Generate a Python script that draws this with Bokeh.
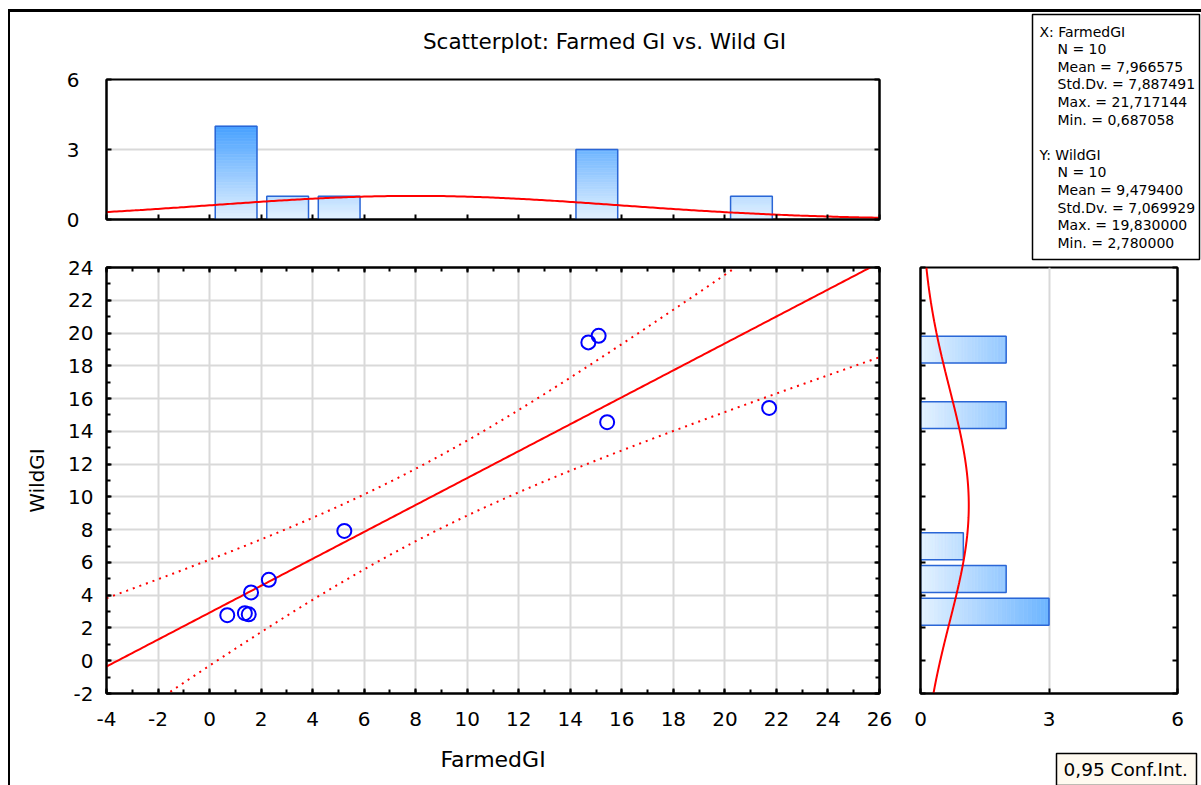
import numpy as np
from bokeh.plotting import figure
from bokeh.layouts import row, column
from bokeh.models import (Range1d, LinearAxis, SingleIntervalTicker, FixedTicker,
                          CustomJSTickFormatter)
from bokeh.core.properties import value
from bokeh.embed import file_html
from bokeh.resources import INLINE

# ---------------- data ----------------
farmed_gi = [0.687058, 1.37, 1.52, 1.61, 2.30, 5.23, 14.70, 15.10, 15.43, 21.717144]
wild_gi = [2.78, 2.90, 2.83, 4.17, 4.94, 7.92, 19.43, 19.83, 14.56, 15.43]

x_bin_left = [0, 2, 4, 14, 20]
x_bin_count = [4, 1, 1, 3, 1]
y_bin_low = [2, 4, 6, 14, 18]
y_bin_count = [3, 2, 1, 2, 2]
bin_width = 2

count_ticks = [0, 3, 6]
title_text = ["Scatterplot: Farmed GI vs. Wild GI"]
x_label = "FarmedGI"
y_label = "WildGI"
stats_lines = ["X:  FarmedGI", "N = 10", "Mean = 7,966575", "Std.Dv. = 7,887491",
               "Max. = 21,717144", "Min. = 0,687058", "",
               "Y:  WildGI", "N = 10", "Mean = 9,479400", "Std.Dv. = 7,069929",
               "Max. = 19,830000", "Min. = 2,780000"]
conf_text = ["0,95 Conf.Int."]
t_975_df8 = 2.306

# ---------------- styles ----------------
FONT = "DejaVu Sans"
GRID = "#d9d9d9"
RED = "#ff0000"
EDGE = "#2a66d6"
BLUE = "#0000ff"
FMT = "return tick.toFixed(0)"


def shade(v):
    t = min(max(v / 4.2, 0.0), 1.0)
    c0 = (228, 242, 255)
    c1 = (62, 156, 255)
    return "#%02x%02x%02x" % tuple(int(round(a + (b - a) * t)) for a, b in zip(c0, c1))


def style_axis(ax, labels=True, minor=True, size="20px", standoff=11):
    ax.axis_line_color = "black"
    ax.axis_line_width = 2
    ax.major_tick_line_color = "black"
    ax.major_tick_line_width = 2
    ax.major_tick_in = 5
    ax.major_tick_out = 0
    ax.minor_tick_line_color = "black" if minor else None
    ax.minor_tick_line_width = 2
    ax.minor_tick_in = 4
    ax.minor_tick_out = 0
    ax.major_label_text_font = FONT
    ax.formatter = CustomJSTickFormatter(code=FMT)
    if labels:
        ax.major_label_text_color = "black"
        ax.major_label_text_font_size = size
        ax.major_label_standoff = standoff
    else:
        ax.major_label_text_color = None
        ax.major_label_text_font_size = "1px"
        ax.major_label_standoff = 0
    ax.axis_label_text_font = FONT
    ax.axis_label_text_font_size = "20px"
    ax.axis_label_text_font_style = "normal"
    ax.axis_label_text_color = "black"


def base_fig(**kw):
    p = figure(output_backend="svg", toolbar_location=None, frame_align=False, **kw)
    p.outline_line_color = "black"
    p.outline_line_width = 2
    p.background_fill_color = "white"
    p.border_fill_color = "white"
    return p


# ---------------- title strip ----------------
ttl = base_fig(width=890, height=50, x_range=Range1d(0, 890), y_range=Range1d(0, 50),
               min_border_left=0, min_border_right=0, min_border_top=0, min_border_bottom=0,
               x_axis_location=None, y_axis_location=None)
ttl.outline_line_color = None
ttl.grid.visible = False
ttl.text(x=[594], y=[21], text=title_text, text_font=value(FONT), text_font_size="21.5px",
         text_align="center", text_baseline="middle", text_color="black")

# ---------------- main scatter ----------------
main = base_fig(width=890, height=540, x_range=Range1d(-4, 26), y_range=Range1d(-2, 24),
                min_border_left=96, min_border_right=21, min_border_top=21, min_border_bottom=93,
                x_axis_label=x_label, y_axis_label=y_label)
main.xaxis.ticker = SingleIntervalTicker(interval=2, num_minor_ticks=2)
main.yaxis.ticker = SingleIntervalTicker(interval=2, num_minor_ticks=2)
style_axis(main.xaxis[0], standoff=18)
style_axis(main.yaxis[0], standoff=13)
main.xaxis[0].axis_label_standoff = 18
main.xaxis[0].axis_label_text_font_size = "22px"
main.yaxis[0].axis_label_standoff = 16
main.yaxis[0].axis_label_text_font_size = "20px"
top_ax = LinearAxis(ticker=SingleIntervalTicker(interval=2, num_minor_ticks=2))
right_ax = LinearAxis(ticker=SingleIntervalTicker(interval=2, num_minor_ticks=2))
style_axis(top_ax, labels=False)
style_axis(right_ax, labels=False)
main.add_layout(top_ax, "above")
main.add_layout(right_ax, "right")
main.grid.grid_line_color = GRID
main.grid.grid_line_width = 2

xa = np.array(farmed_gi)
ya = np.array(wild_gi)
n = len(xa)
slope, intercept = np.polyfit(xa, ya, 1)
xm = xa.mean()
resid = ya - (intercept + slope * xa)
s_res = np.sqrt((resid ** 2).sum() / (n - 2))
sxx = ((xa - xm) ** 2).sum()
xs = np.linspace(-4, 26, 301)
yhat = intercept + slope * xs
half = t_975_df8 * s_res * np.sqrt(1.0 / n + (xs - xm) ** 2 / sxx)
main.line(xs, yhat, line_color=RED, line_width=2)
main.line(xs, yhat + half, line_color=RED, line_width=2, line_dash="2 5")
main.line(xs, yhat - half, line_color=RED, line_width=2, line_dash="2 5")
main.scatter(farmed_gi, wild_gi, marker="circle", size=14, fill_color=None,
             line_color=BLUE, line_width=2)

# ---------------- top histogram ----------------
top = base_fig(width=890, height=184, x_range=Range1d(-4, 26), y_range=Range1d(0, 6),
               min_border_left=96, min_border_right=21, min_border_top=17, min_border_bottom=27)
top.xaxis.ticker = SingleIntervalTicker(interval=2, num_minor_ticks=0)
top.yaxis.ticker = FixedTicker(ticks=count_ticks)
style_axis(top.xaxis[0], labels=False, minor=False)
style_axis(top.yaxis[0], minor=False, standoff=27)
tr_ax = LinearAxis(ticker=FixedTicker(ticks=count_ticks))
style_axis(tr_ax, labels=False, minor=False)
top.add_layout(tr_ax, "right")
top.xgrid.visible = False
top.ygrid.grid_line_color = GRID
top.ygrid.grid_line_width = 2

NS = 30
sl, sr, sb, st, sc = [], [], [], [], []
for left, cnt in zip(x_bin_left, x_bin_count):
    for k in range(NS):
        b = cnt * k / NS
        t = cnt * (k + 1) / NS
        sl.append(left + 0.22)
        sr.append(left + 0.22 + 1.62)
        sb.append(b)
        st.append(t)
        sc.append(shade((b + t) / 2))
top.quad(left=sl, right=sr, bottom=sb, top=st, fill_color=sc, line_color=sc, line_width=0.6)
top.quad(left=[l + 0.22 for l in x_bin_left], right=[l + 0.22 + 1.62 for l in x_bin_left],
         bottom=0, top=x_bin_count, fill_color=None, line_color=EDGE, line_width=1.5)
sx_mean, sx_sd = xa.mean(), xa.std(ddof=1)
nx = np.linspace(-4, 26, 301)
top.line(nx, n * bin_width * np.exp(-0.5 * ((nx - sx_mean) / sx_sd) ** 2) / (sx_sd * np.sqrt(2 * np.pi)),
         line_color=RED, line_width=2)

# ---------------- right histogram ----------------
rh = base_fig(width=301, height=483, x_range=Range1d(0, 6), y_range=Range1d(-2, 24),
              min_border_left=20, min_border_right=24, min_border_top=4, min_border_bottom=53)
rh.xaxis.ticker = FixedTicker(ticks=count_ticks)
rh.yaxis.ticker = SingleIntervalTicker(interval=2, num_minor_ticks=0)
style_axis(rh.xaxis[0], minor=False, standoff=18)
style_axis(rh.yaxis[0], labels=False, minor=False)
rr_ax = LinearAxis(ticker=SingleIntervalTicker(interval=2, num_minor_ticks=0))
style_axis(rr_ax, labels=False, minor=False)
rh.add_layout(rr_ax, "right")
rh.ygrid.visible = False
rh.xgrid.grid_line_color = GRID
rh.xgrid.grid_line_width = 2

sl, sr, sb, st, sc = [], [], [], [], []
for low, cnt in zip(y_bin_low, y_bin_count):
    for k in range(NS):
        a = cnt * k / NS
        b = cnt * (k + 1) / NS
        sl.append(a)
        sr.append(b)
        sb.append(low + 0.17)
        st.append(low + 0.17 + 1.64)
        sc.append(shade((a + b) / 2))
rh.quad(left=sl, right=sr, bottom=sb, top=st, fill_color=sc, line_color=sc, line_width=0.6)
rh.quad(left=0, right=y_bin_count, bottom=[l + 0.17 for l in y_bin_low],
        top=[l + 0.17 + 1.64 for l in y_bin_low], fill_color=None, line_color=EDGE, line_width=1.5)
sy_mean, sy_sd = ya.mean(), ya.std(ddof=1)
ny = np.linspace(-2, 24, 301)
rh.line(n * bin_width * np.exp(-0.5 * ((ny - sy_mean) / sy_sd) ** 2) / (sy_sd * np.sqrt(2 * np.pi)), ny,
        line_color=RED, line_width=2)

# ---------------- confidence legend box ----------------
conf = base_fig(width=301, height=40, x_range=Range1d(0, 140), y_range=Range1d(0, 33),
                min_border_left=156, min_border_right=5, min_border_top=7, min_border_bottom=0,
                x_axis_location=None, y_axis_location=None)
conf.background_fill_color = "#fffaf0"
conf.outline_line_width = 1.5
conf.grid.visible = False
conf.text(x=[7], y=[17], text=conf_text, text_font=value(FONT), text_font_size="18.5px",
          text_baseline="middle", text_align="left", text_color="black")

# ---------------- stats box ----------------
stats = base_fig(width=301, height=251, x_range=Range1d(0, 167), y_range=Range1d(0, 245),
                 min_border_left=132, min_border_right=2, min_border_top=2, min_border_bottom=4,
                 x_axis_location=None, y_axis_location=None)
stats.outline_line_width = 1.5
stats.grid.visible = False
tx, ty, tt = [], [], []
for i, line in enumerate(stats_lines):
    if not line:
        continue
    indent = 7 if line[:2] in ("X:", "Y:") else 25
    tx.append(indent)
    ty.append(245 - (17 + i * 17.6))
    tt.append(line)
stats.text(x=tx, y=ty, text=tt, text_font=value(FONT), text_font_size="14px",
           text_baseline="middle", text_align="left", text_color="black")

layout = row(column(ttl, top, main), column(stats, rh, conf),
             styles={"margin-left": "8px", "margin-top": "9px",
                     "border-left": "2px solid black", "border-top": "3px solid black"})

open("out.html", "w").write(file_html(layout, INLINE))
